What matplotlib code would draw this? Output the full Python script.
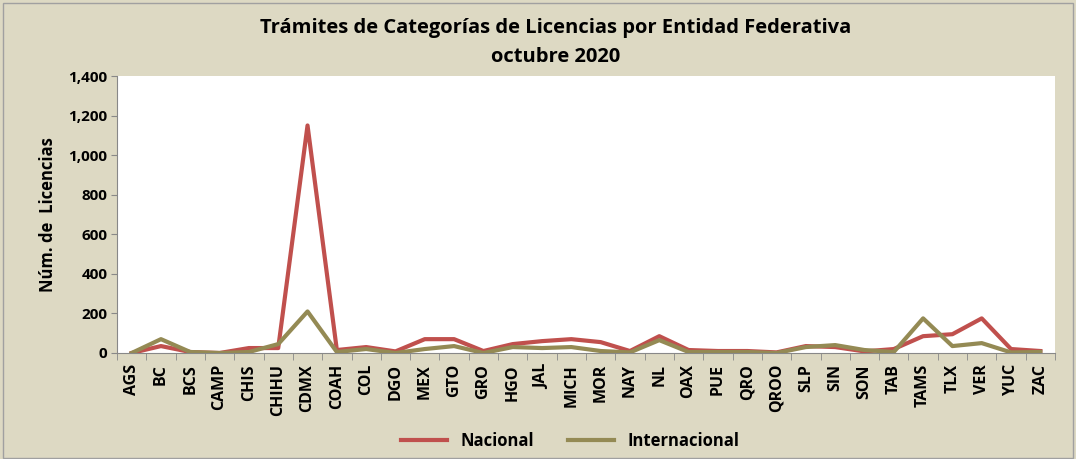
import matplotlib.pyplot as plt
import numpy as np

# estados y valores
estados = ['AGS', 'BC', 'BCS', 'CAMP', 'CHIS', 'CHIHU', 'CDMX', 'COAH', 'COL', 'DGO',
           'MEX', 'GTO', 'GRO', 'HGO', 'JAL', 'MICH', 'MOR', 'NAY', 'NL', 'OAX',
           'PUE', 'QRO', 'QROO', 'SLP', 'SIN', 'SON', 'TAB', 'TAMS', 'TLX', 'VER',
           'YUC', 'ZAC']
nacional = [0, 35, 5, 0, 25, 25, 1150, 15, 30, 8,
            70, 70, 10, 45, 60, 70, 55, 10, 85, 15,
            10, 10, 3, 35, 30, 8, 20, 85, 95, 175,
            20, 10]
internacional = [0, 70, 5, 0, 5, 45, 210, 5, 20, 0,
                 20, 35, 0, 30, 25, 30, 10, 3, 65, 5,
                 5, 5, 0, 30, 40, 15, 5, 175, 35, 50,
                 3, 5]

plt.rcParams['font.family'] = ['Open Sans', 'DejaVu Sans']
bg = '#DDD9C3'

fig = plt.figure(figsize=(10.76, 4.59), dpi=100)
fig.patch.set_facecolor(bg)
ax = fig.add_axes([117 / 1076, 1 - 353 / 459, (1055 - 117) / 1076, (353 - 76) / 459])
ax.set_facecolor('white')

x = np.arange(len(estados))
ax.plot(x, nacional, color='#C0504D', lw=3, label='Nacional', solid_joinstyle='round')
ax.plot(x, internacional, color='#948A54', lw=3, label='Internacional', solid_joinstyle='round')

ax.set_xlim(-0.5, len(estados) - 0.5)
ax.set_ylim(0, 1400)
ax.set_yticks(range(0, 1401, 200))
ax.set_yticklabels([f'{v:,}' for v in range(0, 1401, 200)], fontsize=11, fontweight='bold')
ax.set_xticks(x)
ax.set_xticklabels(estados, rotation=90, fontsize=11.5, fontweight='bold')
ax.set_xticks(np.arange(-0.5, len(estados), 1), minor=True)
ax.tick_params(axis='x', which='major', length=0, pad=8)
ax.tick_params(axis='x', which='minor', length=5, color='#888888')
ax.tick_params(axis='y', length=4, color='#888888', pad=3)

for s in ['top', 'right']:
    ax.spines[s].set_visible(False)
ax.spines['left'].set_color('#888888')
ax.spines['bottom'].set_color('#888888')

ax.set_ylabel('Núm. de  Licencias', fontsize=12, fontweight='bold', labelpad=8)
fig.text(0.516, 1 - 28 / 459, 'Trámites de Categorías de Licencias por Entidad Federativa',
         ha='center', va='center', fontsize=14.5, fontweight='bold')
fig.text(0.516, 1 - 57 / 459, 'octubre 2020', ha='center', va='center',
         fontsize=14.5, fontweight='bold')

leg = fig.legend(loc='center', bbox_to_anchor=(0.53, 1 - 441 / 459), ncol=2,
                 frameon=False, fontsize=12, handlelength=2.8, columnspacing=2.0)
for t in leg.get_texts():
    t.set_fontweight('bold')

fig.add_artist(plt.Rectangle((0.003, 0.003), 0.994, 0.99, fill=False,
                             edgecolor='#A0A0A0', lw=1, transform=fig.transFigure))

fig.savefig('out.png', dpi=100, facecolor=bg)
